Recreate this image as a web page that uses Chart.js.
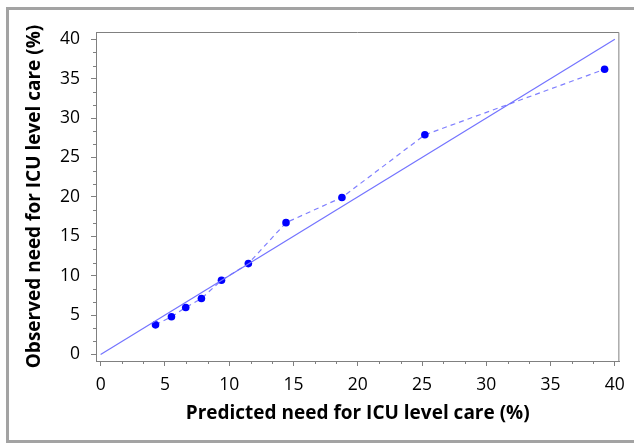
<!DOCTYPE html>
<html>
<head>
<meta charset="utf-8">
<script src="https://cdn.jsdelivr.net/npm/chart.js@4"></script>
<style>
  body { margin: 0; background: #fff; }
  canvas { display: block; }
</style>
</head>
<body>
<canvas id="kalibrasi" width="634" height="445"></canvas>
<script>
//Data kalibrasi//
const predicted = [4.27, 5.51, 6.62, 7.84, 9.40, 11.49, 14.42, 18.77, 25.22, 39.2];
const observed = [3.76, 4.78, 5.97, 7.10, 9.42, 11.53, 16.73, 19.93, 27.88, 36.2];
const diagX = [0, 40];
const diagY = [0, 40];
const axisTicks = [0, 5, 10, 15, 20, 25, 30, 35, 40];

const axisColor = "#808080";

// outer gray frame, top/right plot border, minor ticks
const framePlugin = {
  id: "frame",
  beforeDraw(chart) {
    const ctx = chart.ctx;
    ctx.save();
    ctx.strokeStyle = "#a3a3a3";
    ctx.lineWidth = 3;
    ctx.strokeRect(7.5, 8.5, 640, 433);
    ctx.restore();
  },
  afterDraw(chart) {
    const ctx = chart.ctx;
    const area = chart.chartArea;
    const x = chart.scales.x;
    const y = chart.scales.y;
    ctx.save();
    ctx.strokeStyle = axisColor;
    ctx.lineWidth = 1;
    ctx.beginPath();
    ctx.moveTo(area.left, area.top + 0.5);
    ctx.lineTo(area.right - 0.5, area.top + 0.5);
    ctx.lineTo(area.right - 0.5, area.bottom);
    ctx.stroke();
    ctx.beginPath();
    for (let i = 0; i < axisTicks.length - 1; i++) {
      for (let k = 1; k < 3; k++) {
        const v = axisTicks[i] + (k * 5) / 3;
        const px = Math.round(x.getPixelForValue(v)) + 0.5;
        ctx.moveTo(px, area.bottom);
        ctx.lineTo(px, area.bottom + 3);
        const py = Math.round(y.getPixelForValue(v)) + 0.5;
        ctx.moveTo(area.left, py);
        ctx.lineTo(area.left - 3, py);
      }
    }
    ctx.stroke();
    ctx.restore();
  },
};

const data = {
  datasets: [
    {
      label: "Ideal",
      data: diagX.map((v, i) => ({ x: v, y: diagY[i] })),
      showLine: true,
      borderColor: "#7373ff",
      borderWidth: 1.2,
      pointRadius: 0,
    },
    {
      label: "Observed",
      data: predicted.map((v, i) => ({ x: v, y: observed[i] })),
      showLine: true,
      borderColor: "#7f7fff",
      borderWidth: 1.2,
      borderDash: [5, 4],
      pointRadius: 3.8,
      pointBackgroundColor: "#0000ff",
      pointBorderColor: "#0000ff",
      pointBorderWidth: 0,
    },
  ],
};

const config = {
  type: "scatter",
  data: data,
  options: {
    responsive: false,
    animation: false,
    layout: {
      padding: { left: 0, top: 32, right: 14, bottom: 0 },
    },
    plugins: {
      legend: { display: false },
      tooltip: { enabled: false },
    },
    scales: {
      x: {
        type: "linear",
        min: -0.36,
        max: 40.35,
        afterBuildTicks: (axis) => {
          axis.ticks = axisTicks.map((v) => ({ value: v }));
        },
        afterFit: (axis) => {
          axis.height = 84;
        },
        grid: {
          display: true,
          drawOnChartArea: false,
          drawTicks: true,
          tickLength: 5,
          tickColor: axisColor,
        },
        border: { color: axisColor },
        ticks: {
          padding: 9,
          color: "#000",
          maxRotation: 0,
          font: { family: "'Open Sans'", size: 17.5 },
        },
        title: {
          display: true,
          text: "Predicted need for ICU level care (%)",
          color: "#000",
          padding: { top: 0, bottom: 20 },
          font: { family: "'Open Sans'", size: 19, weight: "bold" },
        },
      },
      y: {
        type: "linear",
        min: -0.83,
        max: 40.93,
        afterBuildTicks: (axis) => {
          axis.ticks = axisTicks.map((v) => ({ value: v }));
        },
        afterFit: (axis) => {
          axis.width = 96;
        },
        grid: {
          display: true,
          drawOnChartArea: false,
          drawTicks: true,
          tickLength: 5,
          tickColor: axisColor,
        },
        border: { color: axisColor },
        ticks: {
          padding: 11,
          color: "#000",
          font: { family: "'Open Sans'", size: 17.5 },
        },
        title: {
          display: true,
          text: "Observed need for ICU level care (%)",
          color: "#000",
          padding: { top: 23, bottom: 0 },
          font: { family: "'Open Sans'", size: 19, weight: "bold" },
        },
      },
    },
  },
  plugins: [framePlugin],
};

const kalibrasiChart = new Chart(document.getElementById("kalibrasi").getContext("2d"), config);
//Akhir Data kalibrasi//
</script>
</body>
</html>
